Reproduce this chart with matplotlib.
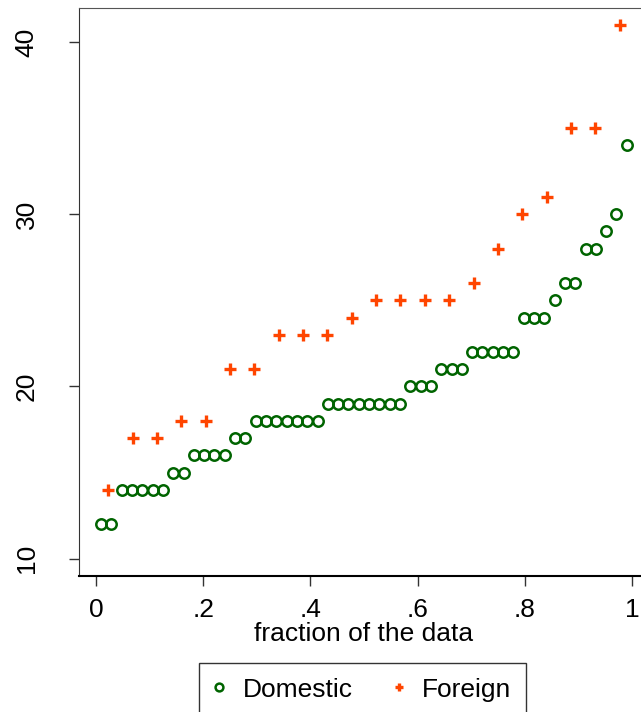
import matplotlib.pyplot as plt
import numpy as np

plt.rcParams["font.family"] = ["Liberation Sans", "DejaVu Sans"]

# mpg values, sorted
mpg_domestic = [12, 12, 14, 14, 14, 14, 14, 15, 15, 16, 16, 16, 16, 17, 17,
                18, 18, 18, 18, 18, 18, 18, 19, 19, 19, 19, 19, 19, 19, 19,
                20, 20, 20, 21, 21, 21, 22, 22, 22, 22, 22, 24, 24, 24, 25,
                26, 26, 28, 28, 29, 30, 34]
mpg_foreign = [14, 17, 17, 18, 18, 21, 21, 23, 23, 23, 24, 25, 25, 25, 25,
               26, 28, 30, 31, 35, 35, 41]

x_ticks = [0, 0.2, 0.4, 0.6, 0.8, 1]
x_ticklabels = ["0", ".2", ".4", ".6", ".8", "1"]
y_ticks = [10, 20, 30, 40]


def plotting_position(values):
    # fraction of the data: (rank - 0.5) / n
    n = len(values)
    return (np.arange(1, n + 1) - 0.5) / n


fig = plt.figure(figsize=(6.41, 7.12), dpi=100)
ax = fig.add_axes([0.1232, 0.191, 0.8877, 0.7978])

ax.plot(plotting_position(mpg_domestic), mpg_domestic, "o", ls="none",
        mfc="none", mec="#006400", mew=1.8, ms=7.5, label="Domestic")
ax.plot(plotting_position(mpg_foreign), mpg_foreign, "+", ls="none",
        color="#ff4500", mew=2.4, ms=8, label="Foreign")

ax.set_xlim(-0.0317, 1.03)
ax.set_ylim(9.0, 41.97)
ax.set_xticks(x_ticks)
ax.set_xticklabels(x_ticklabels)
ax.set_yticks(y_ticks)
ax.tick_params(axis="both", labelsize=19, length=7, width=1, color="#333333")
ax.tick_params(axis="x", pad=9)
ax.tick_params(axis="y", pad=22)
for lab in ax.get_yticklabels():
    lab.set_rotation(90)
    lab.set_va("center")

ax.set_xlabel("fraction of the data", fontsize=19, labelpad=0)

ax.spines["right"].set_visible(False)
ax.spines["top"].set_color("#555555")
ax.spines["left"].set_color("#333333")
ax.spines["bottom"].set_color("black")
ax.spines["bottom"].set_linewidth(1.5)

leg = fig.legend(loc="upper center", bbox_to_anchor=(0.5655, 0.0688),
                 ncol=2, fontsize=19, frameon=True, fancybox=False,
                 edgecolor="black", markerscale=0.75, handlelength=0.4,
                 handletextpad=0.7, columnspacing=1.55, borderpad=0.55,
                 borderaxespad=0)
leg.get_frame().set_linewidth(1.0)

plt.savefig("out.png", dpi=100)
